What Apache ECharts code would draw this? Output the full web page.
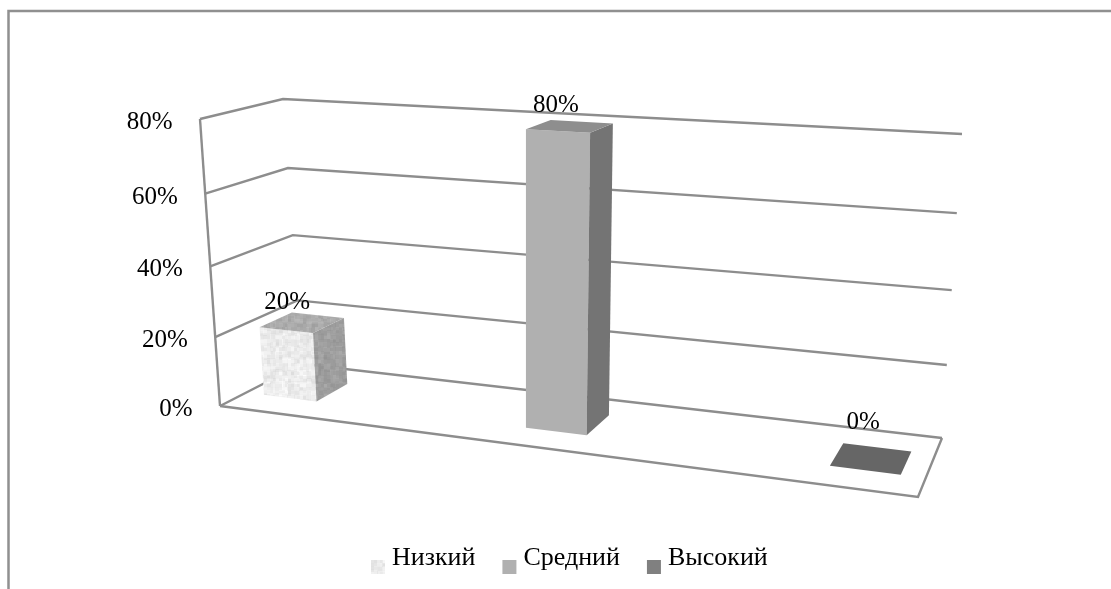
<!DOCTYPE html>
<html><head><meta charset="utf-8">
<style>html,body{margin:0;padding:0;background:#fff}#c{width:1111px;height:589px}</style>
<script src="https://cdn.jsdelivr.net/npm/echarts@6/dist/echarts.min.js"></script>
</head><body><div id="c"></div>
<script>
// Data
const categories = ['Низкий', 'Средний', 'Высокий'];
const values = [20, 80, 0];
const yTicks = [0, 20, 40, 60, 80];

// Scene geometry (perspective of the box, pixels)
const FLOOR = [[220,406],[918,497],[942,438],[302,364]];
const TOP   = [[200,119],[935,161],[962,134],[283,99]];
const HEIGHT_PERSP = 0.947, U_INSET = 0.076, BAR_HALF_U = 0.045, V_FRONT = 0.30, V_BACK = 0.70;
const LABEL_OFFSET = [[-15,-20],[-14,-21],[-8,-36]];
const FONT = '"Liberation Serif","Times New Roman",serif';

function homography(q){
  const [p0,p1,p2,p3]=q;
  const dx1=p1[0]-p2[0],dx2=p3[0]-p2[0],dx3=p0[0]-p1[0]+p2[0]-p3[0];
  const dy1=p1[1]-p2[1],dy2=p3[1]-p2[1],dy3=p0[1]-p1[1]+p2[1]-p3[1];
  const den=dx1*dy2-dx2*dy1;
  const g=(dx3*dy2-dx2*dy3)/den,h=(dx1*dy3-dx3*dy1)/den;
  const a=p1[0]-p0[0]+g*p1[0],b=p3[0]-p0[0]+h*p3[0],c=p0[0];
  const d=p1[1]-p0[1]+g*p1[1],e=p3[1]-p0[1]+h*p3[1],f=p0[1];
  return (u,v)=>{const k=g*u+h*v+1;return [(a*u+b*v+c)/k,(d*u+e*v+f)/k];};
}
const hFloor=homography(FLOOR),hTop=homography(TOP);
function project(u,v,w){
  const t=w*HEIGHT_PERSP/(1+(HEIGHT_PERSP-1)*w);
  const A=hFloor(u,v),B=hTop(u,v);
  return [A[0]+(B[0]-A[0])*t,A[1]+(B[1]-A[1])*t];
}

// Marble-like texture used by the first series
function hash(x,y,s){const n=Math.sin(x*127.1+y*311.7+s*74.7)*43758.5453;return n-Math.floor(n);}
function marble(base,amp){
  const S=96,low=document.createElement('canvas');low.width=low.height=S;
  const ctx=low.getContext('2d'),img=ctx.createImageData(S,S);
  for(let y=0;y<S;y++)for(let x=0;x<S;x++){
    const cell=(cx,cy,sz)=>hash(Math.floor(cx/sz),Math.floor(cy/sz),sz);
    const n=(cell(x,y,3)+cell(x+1,y+1,4)+cell(x,y+2,6))/3;
    const val=Math.max(0,Math.min(255,base+(n-0.5)*amp));
    const i=(y*S+x)*4;img.data[i]=img.data[i+1]=img.data[i+2]=val;img.data[i+3]=255;
  }
  ctx.putImageData(img,0,0);
  return low;
}
const pat=(c)=>({image:c,repeat:'repeat'});
const FACE_STYLES=[
  {front:pat(marble(236,36)),top:pat(marble(172,32)),side:pat(marble(158,30)),legend:pat(marble(236,36))},
  {front:'#b0b0b0',top:'#8e8e8e',side:'#747474',legend:'#b0b0b0'},
  {front:'#808080',top:'#666666',side:'#5a5a5a',legend:'#808080'}
];
const GRID_COLOR='#8d8d8d';

function poly(pts,fill){return {type:'polygon',shape:{points:pts},style:{fill:fill,stroke:null},silent:true};}
function barSeries(idx){
  return {
    type:'custom',name:categories[idx],coordinateSystem:'cartesian2d',
    itemStyle:{color:FACE_STYLES[idx].legend},
    data:[[idx,values[idx]]],z:3,clip:false,silent:true,
    renderItem(params,api){
      const cs=params.coordSys;
      const pt=api.coord([api.value(0),api.value(1)]);
      const frac=(pt[0]-cs.x)/cs.width;
      const u=U_INSET+(1-2*U_INSET)*frac;
      const w=(cs.y+cs.height-pt[1])/cs.height;
      const u0=u-BAR_HALF_U,u1=u+BAR_HALF_U;
      const fb=[project(u0,V_FRONT,0),project(u1,V_FRONT,0),project(u1,V_BACK,0)];
      const ft=[project(u0,V_FRONT,w),project(u1,V_FRONT,w),project(u1,V_BACK,w),project(u0,V_BACK,w)];
      const st=FACE_STYLES[idx];
      const kids=[];
      if(w>0){
        kids.push(poly([fb[0],fb[1],ft[1],ft[0]],st.front));
        kids.push(poly([fb[1],fb[2],ft[2],ft[1]],st.side));
      }
      kids.push(poly(ft,st.top));
      const c=project(u,(V_FRONT+V_BACK)/2,w);
      kids.push({type:'text',z2:10,style:{text:values[idx]+'%',x:c[0]+LABEL_OFFSET[idx][0],y:c[1]+LABEL_OFFSET[idx][1],
        align:'center',verticalAlign:'middle',fill:'#000',font:'25px '+FONT}});
      return {type:'group',children:kids};
    }
  };
}

const wallSeries={
  type:'custom',name:'walls',coordinateSystem:'cartesian2d',data:yTicks.map(t=>[0,t]),z:1,clip:false,silent:true,
  renderItem(params,api){
    const cs=params.coordSys;
    const py=api.coord([0,api.value(1)])[1];
    const w=(cs.y+cs.height-py)/cs.height;
    const ls={stroke:GRID_COLOR,lineWidth:2.4,fill:null};
    const a=project(0,0,w),b=project(0,1,w),c=project(1,1,w);
    const kids=[{type:'polyline',shape:{points:[a,b,c]},style:ls}];
    if(w===0){
      kids.push({type:'polyline',shape:{points:[a,project(1,0,0),c]},style:ls});
      kids.push({type:'line',shape:{x1:a[0],y1:a[1],x2:project(0,0,1)[0],y2:project(0,0,1)[1]},style:ls});
    }
    kids.push({type:'text',style:{text:api.value(1)+'%',x:a[0]-27.5,y:a[1]+3.5,align:'right',verticalAlign:'middle',fill:'#000',font:'25px '+FONT}});
    return {type:'group',children:kids};
  }
};

const chart=echarts.init(document.getElementById('c'));
chart.setOption({
  animation:false,backgroundColor:'#fff',
  graphic:[{type:'rect',shape:{x:8.5,y:11,width:1300,height:800},style:{fill:null,stroke:'#909090',lineWidth:2.5},silent:true}],
  grid:{left:0,right:0,top:0,bottom:0},
  xAxis:{type:'category',data:categories,boundaryGap:false,show:false},
  yAxis:{type:'value',min:0,max:80,interval:20,show:false},
  legend:{data:categories,left:371,top:545,padding:0,itemWidth:14,itemHeight:14,itemGap:27,icon:'rect',
    formatter:(n)=>'{t|'+n+'}',
    textStyle:{fontFamily:FONT,fontSize:26,color:'#000',rich:{t:{fontFamily:FONT,fontSize:26,color:'#000',padding:[0,0,18,2]}}},selectedMode:false},
  series:[wallSeries,barSeries(0),barSeries(1),barSeries(2)]
});
</script></body></html>
